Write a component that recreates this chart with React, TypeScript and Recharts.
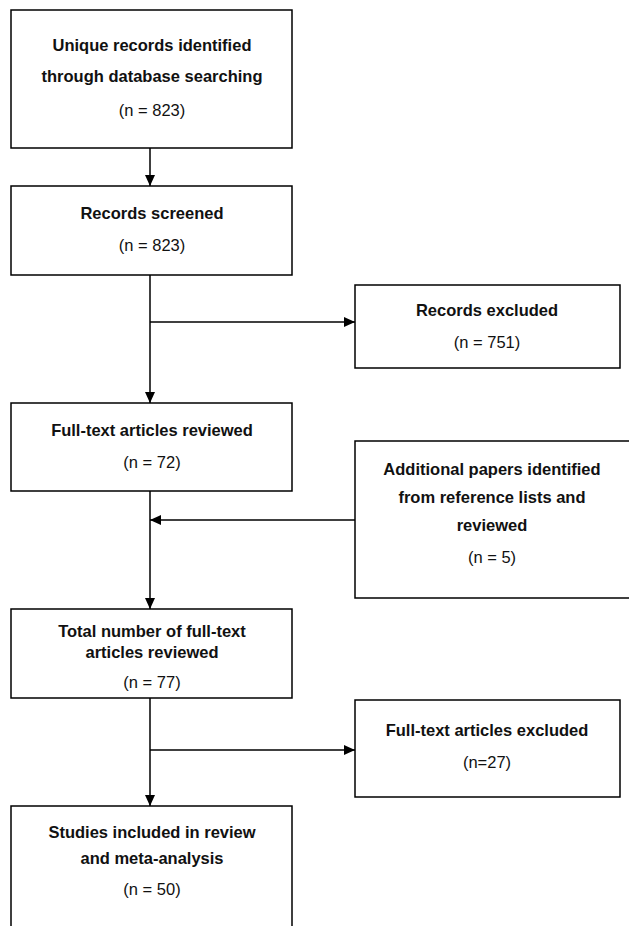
import React from "react";
import { ComposedChart, XAxis, YAxis, ReferenceArea, ReferenceLine, Scatter } from "recharts";

const boxes = [
  { x1: 11, y1: 10, x2: 292, y2: 148 },
  { x1: 11, y1: 186, x2: 292, y2: 275 },
  { x1: 355, y1: 285, x2: 620, y2: 368 },
  { x1: 11, y1: 403, x2: 292, y2: 491 },
  { x1: 355, y1: 441, x2: 632, y2: 598 },
  { x1: 11, y1: 609, x2: 292, y2: 698 },
  { x1: 355, y1: 700, x2: 620, y2: 797 },
  { x1: 11, y1: 806, x2: 292, y2: 940 },
];

const texts = [
  { x: 152, y: 45, label: "Unique records identified", bold: true },
  { x: 152, y: 76, label: "through database searching", bold: true },
  { x: 152, y: 110, label: "(n = 823)", bold: false },
  { x: 152, y: 213, label: "Records screened", bold: true },
  { x: 152, y: 245, label: "(n = 823)", bold: false },
  { x: 487, y: 310, label: "Records excluded", bold: true },
  { x: 487, y: 342, label: "(n = 751)", bold: false },
  { x: 152, y: 430, label: "Full-text articles reviewed", bold: true },
  { x: 152, y: 462, label: "(n = 72)", bold: false },
  { x: 492, y: 469, label: "Additional papers identified", bold: true },
  { x: 492, y: 497, label: "from reference lists and", bold: true },
  { x: 492, y: 525, label: "reviewed", bold: true },
  { x: 492, y: 557, label: "(n = 5)", bold: false },
  { x: 152, y: 631, label: "Total number of full-text", bold: true },
  { x: 152, y: 652, label: "articles reviewed", bold: true },
  { x: 152, y: 682, label: "(n = 77)", bold: false },
  { x: 487, y: 730, label: "Full-text articles excluded", bold: true },
  { x: 487, y: 762, label: "(n=27)", bold: false },
  { x: 152, y: 832, label: "Studies included in review", bold: true },
  { x: 152, y: 858, label: "and meta-analysis", bold: true },
  { x: 152, y: 889, label: "(n = 50)", bold: false },
];

const lines = [
  { x1: 150, y1: 148, x2: 150, y2: 186 },
  { x1: 150, y1: 275, x2: 150, y2: 403 },
  { x1: 150, y1: 491, x2: 150, y2: 609 },
  { x1: 150, y1: 698, x2: 150, y2: 806 },
  { x1: 150, y1: 322, x2: 355, y2: 322 },
  { x1: 355, y1: 520, x2: 150, y2: 520 },
  { x1: 150, y1: 750, x2: 355, y2: 750 },
];

const arrows = [
  { x: 150, y: 186, dir: "down" },
  { x: 150, y: 403, dir: "down" },
  { x: 150, y: 609, dir: "down" },
  { x: 150, y: 806, dir: "down" },
  { x: 355, y: 322, dir: "right" },
  { x: 150, y: 520, dir: "left" },
  { x: 355, y: 750, dir: "right" },
];

const Arrow = (p: any) => {
  const { cx, cy, payload } = p;
  const L = 11, W = 5;
  let pts = "";
  if (payload.dir === "down") pts = `${cx},${cy} ${cx - W},${cy - L} ${cx + W},${cy - L}`;
  if (payload.dir === "right") pts = `${cx},${cy} ${cx - L},${cy - W} ${cx - L},${cy + W}`;
  if (payload.dir === "left") pts = `${cx},${cy} ${cx + L},${cy - W} ${cx + L},${cy + W}`;
  return <polygon points={pts} fill="#000" />;
};

const TextShape = (p: any) => {
  const { cx, cy, payload } = p;
  return (
    <text x={cx} y={cy} textAnchor="middle" dominantBaseline="central"
      fontFamily="'Liberation Sans', Arial, sans-serif" fontSize={16.5}
      fontWeight={payload.bold ? 700 : 400} fill="#111">
      {payload.label}
    </text>
  );
};

export default function App() {
  return (
    <div style={{ position: "absolute", left: 0, top: 0, background: "#fff" }}>
      <ComposedChart width={629} height={926} margin={{ top: 0, right: 0, bottom: 0, left: 0 }}>
        <XAxis type="number" dataKey="x" domain={[0, 629]} hide allowDataOverflow />
        <YAxis type="number" dataKey="y" domain={[0, 926]} reversed hide allowDataOverflow />
        {boxes.map((b, i) => (
          <ReferenceArea key={"b" + i} x1={b.x1} x2={b.x2} y1={b.y1} y2={b.y2}
            fill="#fff" fillOpacity={1} stroke="#000" strokeWidth={1.5} ifOverflow="visible" />
        ))}
        {lines.map((l, i) => (
          <ReferenceLine key={"l" + i} segment={[{ x: l.x1, y: l.y1 }, { x: l.x2, y: l.y2 }]}
            stroke="#000" strokeWidth={1.5} ifOverflow="visible" />
        ))}
        <Scatter data={arrows} shape={Arrow} isAnimationActive={false} />
        <Scatter data={texts} shape={TextShape} isAnimationActive={false} />
      </ComposedChart>
    </div>
  );
}
